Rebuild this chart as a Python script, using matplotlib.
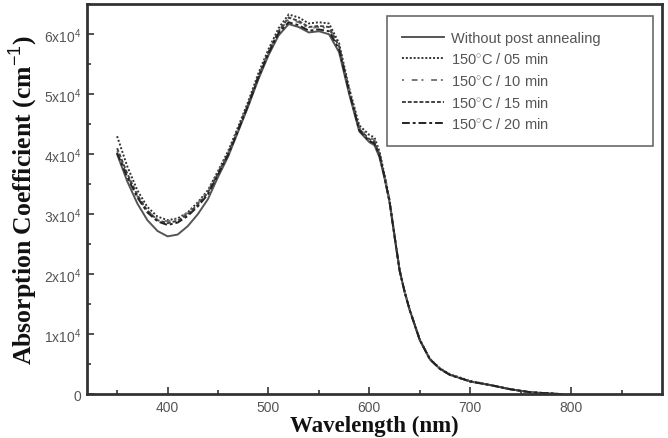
import matplotlib
matplotlib.use('Agg')
import matplotlib.pyplot as plt
from matplotlib.ticker import MultipleLocator, FuncFormatter

plt.rcParams['mathtext.fontset'] = 'custom'
plt.rcParams['mathtext.rm'] = 'Liberation Sans'
plt.rcParams['mathtext.it'] = 'Liberation Sans'

# wavelength (nm)
wl = [350, 360, 370, 380, 390, 400, 410, 420, 430, 440, 450, 460, 470, 480,
      490, 500, 510, 520, 530, 540, 550, 560, 570, 580, 590, 600, 605, 610,
      615, 620, 625, 630, 635, 640, 650, 660, 670, 680, 700, 720, 740, 760,
      780, 790]

# absorption coefficient in units of 1e4 cm^-1
no_anneal = [4.00, 3.55, 3.18, 2.90, 2.72, 2.63, 2.66, 2.80, 3.00, 3.25, 3.62,
             3.96, 4.38, 4.80, 5.25, 5.65, 5.98, 6.17, 6.12, 6.03, 6.05, 6.00,
             5.70, 5.00, 4.38, 4.20, 4.15, 3.95, 3.60, 3.20, 2.62, 2.05, 1.70,
             1.40, 0.90, 0.58, 0.42, 0.32, 0.21, 0.15, 0.08, 0.03, 0.01, 0.00]
a05 = [4.30, 3.80, 3.40, 3.12, 2.96, 2.90, 2.93, 3.03, 3.20, 3.40, 3.72,
       4.05, 4.46, 4.88, 5.35, 5.75, 6.10, 6.33, 6.28, 6.18, 6.20, 6.18,
       5.85, 5.10, 4.48, 4.32, 4.28, 4.05, 3.66, 3.24, 2.64, 2.07, 1.71,
       1.41, 0.91, 0.59, 0.43, 0.33, 0.22, 0.15, 0.08, 0.03, 0.01, 0.00]
a10 = [4.05, 3.65, 3.30, 3.05, 2.92, 2.88, 2.92, 3.02, 3.18, 3.38, 3.70,
       4.02, 4.43, 4.85, 5.30, 5.70, 6.04, 6.25, 6.20, 6.10, 6.12, 6.10,
       5.78, 5.06, 4.44, 4.28, 4.24, 4.02, 3.64, 3.22, 2.63, 2.06, 1.70,
       1.40, 0.90, 0.58, 0.42, 0.32, 0.21, 0.15, 0.08, 0.03, 0.01, 0.00]
a15 = [4.10, 3.68, 3.32, 3.06, 2.90, 2.85, 2.89, 3.00, 3.16, 3.36, 3.68,
       4.00, 4.42, 4.84, 5.30, 5.70, 6.05, 6.28, 6.22, 6.12, 6.14, 6.12,
       5.80, 5.06, 4.42, 4.25, 4.21, 4.00, 3.63, 3.21, 2.63, 2.06, 1.70,
       1.40, 0.90, 0.58, 0.42, 0.32, 0.21, 0.15, 0.08, 0.03, 0.01, 0.00]
a20 = [4.02, 3.62, 3.28, 3.03, 2.88, 2.82, 2.86, 2.97, 3.13, 3.33, 3.66,
       3.99, 4.40, 4.82, 5.28, 5.68, 6.02, 6.20, 6.15, 6.06, 6.08, 6.05,
       5.75, 5.04, 4.40, 4.22, 4.18, 3.98, 3.62, 3.21, 2.63, 2.06, 1.70,
       1.40, 0.90, 0.58, 0.42, 0.32, 0.21, 0.15, 0.08, 0.03, 0.01, 0.00]

labels = ['Without post annealing', '150$^{\\circ}$C / 05 min',
          '150$^{\\circ}$C / 10 min', '150$^{\\circ}$C / 15 min',
          '150$^{\\circ}$C / 20 min']
series = [no_anneal, a05, a10, a15, a20]
styles = ['-', (0, (1, 1)), (0, (1, 4, 3, 2)), (0, (2, 1)), (0, (4, 1.5, 1.5, 1.5))]
colors = ['#555555', '#333333', '#777777', '#444444', '#222222']

fig = plt.figure(figsize=(6.68, 4.39), dpi=100)
ax = fig.add_axes([0.130, 0.100, 0.861, 0.888])

for ys, lab, ls, c in zip(series, labels, styles, colors):
    ax.plot(wl, [v * 1e4 for v in ys], ls=ls, color=c, lw=1.4, label=lab)

ax.set_xlim(320, 890)
ax.set_ylim(0, 6.5e4)
ax.xaxis.set_major_locator(MultipleLocator(100))
ax.xaxis.set_minor_locator(MultipleLocator(50))
ax.yaxis.set_major_locator(MultipleLocator(1e4))
ax.yaxis.set_minor_locator(MultipleLocator(5e3))


def yfmt(v, pos):
    n = int(round(v / 1e4))
    return '0' if n == 0 else '%dx10$^4$' % n


ax.yaxis.set_major_formatter(FuncFormatter(yfmt))
ax.tick_params(which='both', direction='in', top=False, right=False,
               colors='#333333', labelcolor='#555555', labelsize=10, width=1.2)
ax.tick_params(which='major', length=5, pad=4)
ax.tick_params(which='minor', length=3)
for lbl in ax.get_xticklabels() + ax.get_yticklabels():
    lbl.set_family('Liberation Sans')
for sp in ax.spines.values():
    sp.set_linewidth(2)
    sp.set_color('#333333')

ax.set_xlabel('Wavelength (nm)', family='Liberation Serif', fontweight='bold',
              fontsize=16.5, color='#111111', labelpad=1)
ax.set_ylabel('Absorption Coefficient (cm$^{-1}$)', family='Liberation Serif',
              fontweight='bold', fontsize=18.5, color='#111111', labelpad=3)

leg = ax.legend(loc='upper left', bbox_to_anchor=(0.522, 0.638, 0.462, 0.331),
                mode='expand', borderaxespad=0, fancybox=False,
                edgecolor='#444444', handlelength=2.9, labelspacing=0.45,
                borderpad=1.0, handletextpad=0.5,
                prop={'family': 'Liberation Sans', 'size': 10.5})
leg.get_frame().set_linewidth(1.2)
for t in leg.get_texts():
    t.set_color('#555555')

fig.savefig('out.png', dpi=100)
